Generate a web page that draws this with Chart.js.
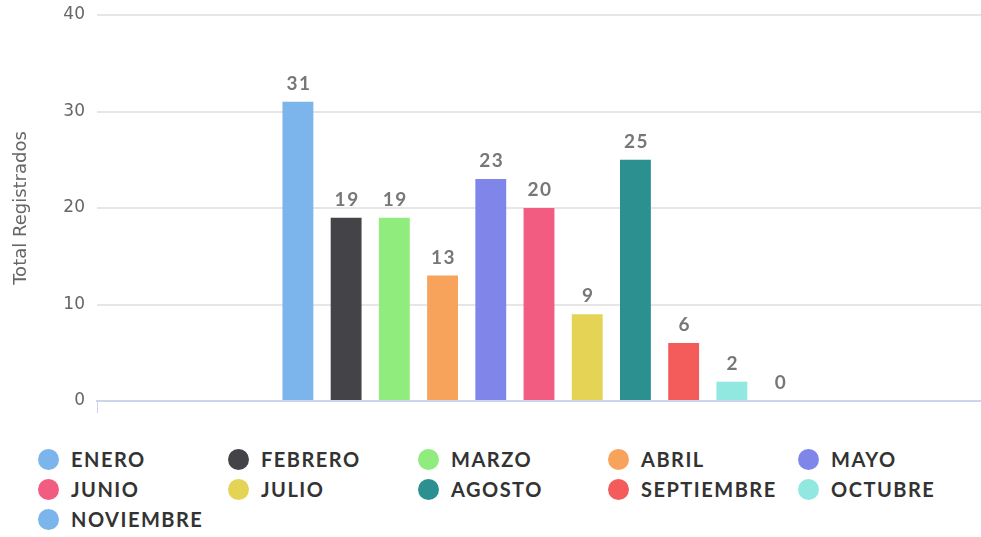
<!DOCTYPE html>
<html lang="es">

<head>
    <meta charset="UTF-8">
    <title>Total Registrados por mes</title>
    <script src="https://cdn.jsdelivr.net/npm/chart.js"></script>
    <style>
        body {
            margin: 0;
            background: #fff;
            font-family: 'Lato', sans-serif;
        }

        .contenedor {
            position: relative;
            width: 981px;
            height: 537px;
        }

        .leyenda {
            position: absolute;
            left: 38px;
            top: 444px;
            display: grid;
            grid-template-columns: repeat(5, 190px);
            grid-auto-rows: 30px;
        }

        .leyenda .item {
            display: flex;
            align-items: center;
            font-weight: bold;
            font-size: 20px;
            letter-spacing: 1.5px;
            color: #333;
        }

        .leyenda .punto {
            width: 21px;
            height: 21px;
            border-radius: 50%;
            margin-right: 12px;
        }
    </style>
</head>

<body>
    <div class="contenedor">
        <canvas id="graficoMeses" width="981" height="413"></canvas>
        <div class="leyenda" id="leyenda"></div>
    </div>

    <script>
        const meses = ['ENERO', 'FEBRERO', 'MARZO', 'ABRIL', 'MAYO', 'JUNIO', 'JULIO', 'AGOSTO', 'SEPTIEMBRE', 'OCTUBRE', 'NOVIEMBRE']
        const totales = [31, 19, 19, 13, 23, 20, 9, 25, 6, 2, 0]
        const colores = ['#7cb5ec', '#434348', '#90ed7d', '#f7a35c', '#8085e9', '#f15c80', '#e4d354', '#2b908f', '#f45b5b', '#91e8e1', '#7cb5ec']
        const ticksY = [0, 10, 20, 30, 40]

        // etiquetas con el valor encima de cada barra
        const etiquetasValor = {
            id: 'etiquetasValor',
            afterDatasetsDraw(chart) {
                const ctx = chart.ctx
                ctx.save()
                ctx.font = 'bold 19px Lato'
                ctx.fillStyle = '#777'
                ctx.textAlign = 'center'
                ctx.textBaseline = 'alphabetic'
                ctx.letterSpacing = '1.5px'
                chart.data.datasets.forEach((ds, i) => {
                    const meta = chart.getDatasetMeta(i)
                    meta.data.forEach((barra, j) => {
                        ctx.fillText(ds.data[j], barra.x + 1, barra.y - 12)
                    })
                })
                ctx.restore()
            }
        }

        const ctx = document.getElementById('graficoMeses')

        const grafico = new Chart(ctx, {
            type: 'bar',
            data: {
                labels: [''],
                datasets: meses.map((mes, i) => ({
                    label: mes,
                    data: [totales[i]],
                    backgroundColor: colores[i]
                }))
            },
            options: {
                responsive: false,
                animation: false,
                categoryPercentage: 0.6,
                barPercentage: 0.64,
                layout: {
                    padding: { top: 15, right: 0, left: 0, bottom: 0 }
                },
                plugins: {
                    legend: { display: false },
                    tooltip: { enabled: false }
                },
                scales: {
                    x: {
                        grid: {
                            display: true,
                            drawOnChartArea: false,
                            drawTicks: true,
                            tickLength: 12,
                            color: '#ccd6eb'
                        },
                        border: { display: true, color: '#ccd6eb', width: 2 },
                        ticks: { display: false }
                    },
                    y: {
                        min: 0,
                        max: 40,
                        afterFit(scale) {
                            scale.width = 97
                            scale.paddingTop = 0
                            scale.paddingBottom = 0
                        },
                        afterBuildTicks(scale) { scale.ticks = ticksY.map(v => ({ value: v })) },
                        grid: { color: '#e6e6e6', lineWidth: 2, drawTicks: false },
                        border: { display: false },
                        ticks: {
                            padding: 12,
                            color: '#666',
                            font: { family: 'DejaVu Sans', size: 17 }
                        },
                        title: {
                            display: true,
                            text: 'Total Registrados',
                            color: '#666',
                            font: { family: 'DejaVu Sans', size: 18 },
                            padding: { top: 11, bottom: 0 }
                        }
                    }
                }
            },
            plugins: [etiquetasValor]
        })

        // leyenda en HTML, en cuadrícula de 5 columnas
        const leyenda = document.getElementById('leyenda')
        grafico.data.datasets.forEach(ds => {
            const item = document.createElement('div')
            item.className = 'item'
            item.innerHTML = '<span class="punto" style="background:' + ds.backgroundColor + '"></span>' + ds.label
            leyenda.appendChild(item)
        })
    </script>
</body>

</html>
